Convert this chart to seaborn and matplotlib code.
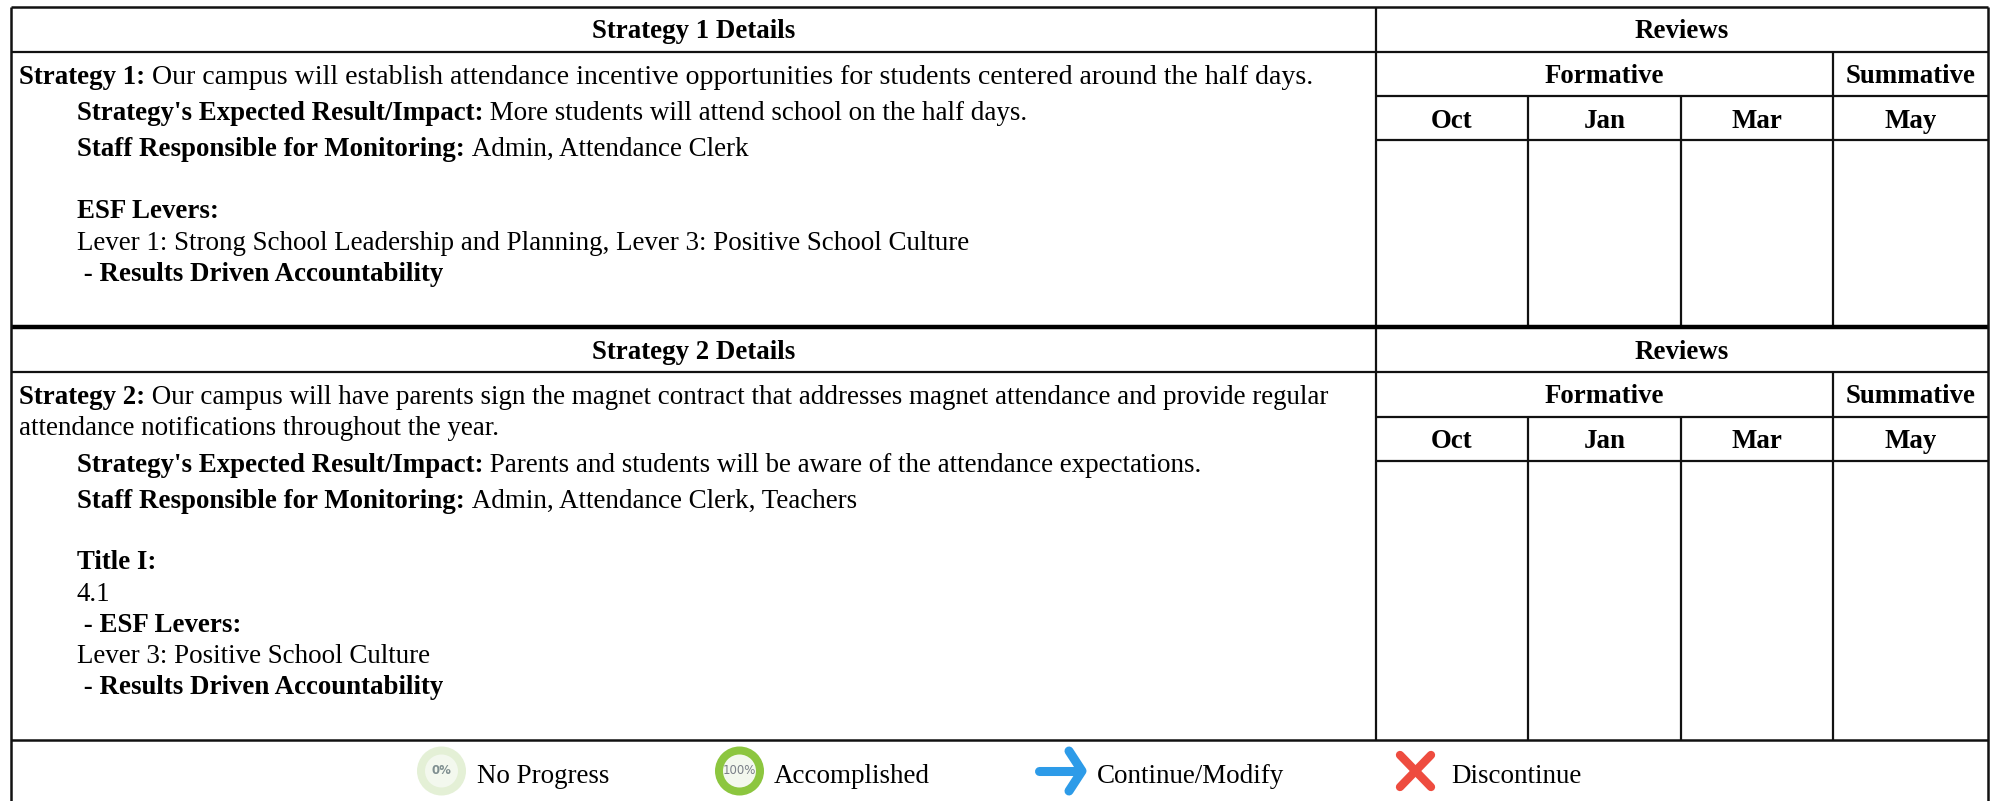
import matplotlib
matplotlib.use("Agg")
import matplotlib.pyplot as plt
import seaborn as sns
from matplotlib.patches import Circle

section_titles = ["Strategy 1 Details", "Strategy 2 Details"]
reviews_title = "Reviews"
review_groups = ["Formative", "Summative"]
review_months = ["Oct", "Jan", "Mar", "May"]

strategy1_lines = [
    ("Strategy 1:", " Our campus will establish attendance incentive opportunities for students centered around the half days."),
    ("Strategy's Expected Result/Impact:", " More students will attend school on the half days."),
    ("Staff Responsible for Monitoring:", " Admin, Attendance Clerk"),
    ("ESF Levers:", ""),
    ("", "Lever 1: Strong School Leadership and Planning, Lever 3: Positive School Culture"),
    (" - Results Driven Accountability", ""),
]
strategy2_lines = [
    ("Strategy 2:", " Our campus will have parents sign the magnet contract that addresses magnet attendance and provide regular"),
    ("", "attendance notifications throughout the year."),
    ("Strategy's Expected Result/Impact:", " Parents and students will be aware of the attendance expectations."),
    ("Staff Responsible for Monitoring:", " Admin, Attendance Clerk, Teachers"),
    ("Title I:", ""),
    ("", "4.1"),
    (" - ESF Levers:", ""),
    ("", "Lever 3: Positive School Culture"),
    (" - Results Driven Accountability", ""),
]
legend_labels = ["No Progress", "Accomplished", "Continue/Modify", "Discontinue"]

# layout in reference pixels
W, H = 1997, 801
left, right = 11, 1988
split = 1376
cols = [1376, 1528, 1681, 1833, 1988]
s1_rows = [7, 52, 96, 140, 327]
s2_rows = [327, 372, 417, 461, 740]
s1_head_y = [38, 83, 128]
s2_head_y = [359, 403, 448]
s1_text_y = [84, 120, 156, 218, 250, 281]
s2_text_y = [404, 435, 472, 508, 569, 601, 632, 663, 694]
s1_text_x = [19, 77, 77, 77, 77, 77]
s2_text_x = [19, 19, 77, 77, 77, 77, 77, 77, 77]
FS = 19.45
FS_WIDE = 20.1  # first line of strategy 1 runs wider in the original
FS_BOLD = 19.4

sns.set_theme(style="white")
plt.rcParams["font.family"] = ["Liberation Serif", "DejaVu Serif"]

fig = plt.figure(figsize=(W / 100, H / 100), dpi=100)
ax = fig.add_axes([0, 0, 1, 1])
ax.set_xlim(0, W)
ax.set_ylim(H, 0)
ax.axis("off")
sns.despine(ax=ax, left=True, bottom=True)


def bold_text(x, y, s, ha="center"):
    return ax.text(x, y, s, fontsize=FS_BOLD, fontweight="bold", color="black", ha=ha, va="baseline")


def rich_line(x, y, bold, normal, size=FS):
    # bold run first, then the regular run right after it
    r = fig.canvas.get_renderer()
    if bold:
        t = bold_text(x, y, bold.replace(" - ", "\u00a0- "), ha="left")
        x = ax.transData.inverted().transform(t.get_window_extent(r))[1, 0]
    if normal:
        ax.text(x, y, normal.replace(" ", "\u00a0", 1) if normal.startswith(" ") else normal,
                fontsize=size, color="black", va="baseline", ha="left")


def section(rows, head_y, title, lines, xs, ys, first_size=FS):
    lw = 1.6
    ax.hlines(rows[1], left, right, color="#111111", lw=lw)
    ax.hlines(rows[2], split, right, color="#111111", lw=lw)
    ax.hlines(rows[3], split, right, color="#111111", lw=lw)
    ax.vlines(split, rows[0], rows[4], color="#111111", lw=lw)
    ax.vlines(cols[3], rows[1], rows[4], color="#111111", lw=lw)
    ax.vlines(cols[1:3], rows[2], rows[4], color="#111111", lw=lw)
    bold_text((left + split) / 2, head_y[0], title)
    bold_text((split + right) / 2, head_y[0], reviews_title)
    bold_text((split + cols[3]) / 2, head_y[1], review_groups[0])
    bold_text((cols[3] + right) / 2, head_y[1], review_groups[1])
    for i, month in enumerate(review_months):
        bold_text((cols[i] + cols[i + 1]) / 2, head_y[2], month)
    for i, ((bold, normal), x, y) in enumerate(zip(lines, xs, ys)):
        rich_line(x, y, bold, normal, first_size if i == 0 else FS)


section(s1_rows, s1_head_y, section_titles[0], strategy1_lines, s1_text_x, s1_text_y, FS_WIDE)
section(s2_rows, s2_head_y, section_titles[1], strategy2_lines, s2_text_x, s2_text_y)

# outer frame, open at the bottom
ax.hlines(7, left, right, color="#111111", lw=1.8)
ax.hlines(327, left, right, color="black", lw=3.2)
ax.hlines(740, left, right, color="#111111", lw=1.8)
ax.vlines([left, right], 7, H, color="#111111", lw=1.8)

# legend
cy = 771
base = 783
ax.add_patch(Circle((441.5, cy), 24.5, color="#e4f0d6", lw=0))
ax.add_patch(Circle((441.5, cy), 16.5, color="#f3f8ee", lw=0))
ax.text(441.5, cy, "0%", fontsize=8.5, color="#7f8f90", ha="center", va="center", fontweight="bold", family="DejaVu Sans")
ax.text(477, base, legend_labels[0], fontsize=FS, color="black", ha="left", va="baseline")

ax.add_patch(Circle((739.5, cy), 24.5, color="#8cc63f", lw=0))
ax.add_patch(Circle((739.5, cy), 16.5, color="#f3f8ee", lw=0))
ax.text(739.5, cy, "100%", fontsize=8.5, color="#7a7f88", ha="center", va="center", family="DejaVu Sans")
ax.text(774, base, legend_labels[1], fontsize=FS, color="black", ha="left", va="baseline")

ax.plot([1039, 1080], [cy, cy], color="#2d9be8", lw=6.5, solid_capstyle="round")
ax.plot([1069, 1082, 1069], [751, cy, 791], color="#2d9be8", lw=6.5, solid_capstyle="round", solid_joinstyle="round")
ax.text(1097, base, legend_labels[2], fontsize=FS, color="black", ha="left", va="baseline")

ax.plot([1400, 1431], [755, 787], color="#ee4c3f", lw=6, solid_capstyle="round")
ax.plot([1400, 1431], [787, 755], color="#ee4c3f", lw=6, solid_capstyle="round")
ax.text(1451, base, legend_labels[3], fontsize=FS, color="black", ha="left", va="baseline")

fig.savefig("out.png", dpi=100, facecolor="white")
